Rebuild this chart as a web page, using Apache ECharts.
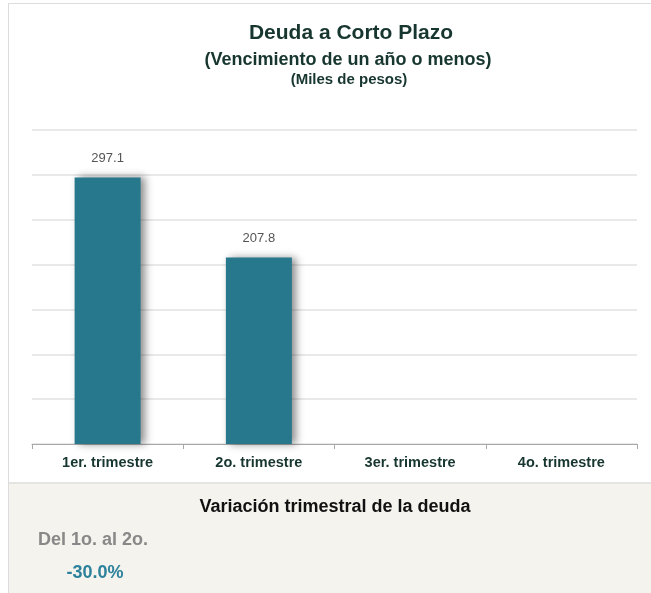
<!DOCTYPE html>
<html>
<head>
<meta charset="utf-8">
<script src="https://cdn.jsdelivr.net/npm/echarts@6/dist/echarts.min.js"></script>
<style>
  html, body { margin: 0; padding: 0; background: #fff; }
  #chart { width: 651px; height: 593px; }
</style>
</head>
<body>
<div id="chart"></div>
<script>
// datos
var trimestres = ['1er. trimestre', '2o. trimestre', '3er. trimestre', '4o. trimestre'];
var deuda = [297.1, 207.8, null, null];
var variacionPeriodo = 'Del 1o. al 2o.';
var variacionValor = '-30.0%';

var fuente = '"Liberation Sans", Arial, sans-serif';
var verdeOscuro = '#17362f';

var chart = echarts.init(document.getElementById('chart'));

var option = {
    backgroundColor: '#fff',
    animation: false,
    title: [
        {
            text: 'Deuda a Corto Plazo',
            left: 346, top: 18, textAlign: 'center',
            textStyle: { fontFamily: fuente, fontSize: 21, fontWeight: 'bold', color: verdeOscuro }
        },
        {
            text: '(Vencimiento de un año o menos)',
            left: 343, top: 46, textAlign: 'center',
            textStyle: { fontFamily: fuente, fontSize: 18, fontWeight: 'bold', color: verdeOscuro }
        },
        {
            text: '(Miles de pesos)',
            left: 344, top: 67, textAlign: 'center',
            textStyle: { fontFamily: fuente, fontSize: 15, fontWeight: 'bold', color: verdeOscuro }
        }
    ],
    grid: { left: 32, right: 14, top: 130, bottom: 149, containLabel: false },
    xAxis: {
        type: 'category',
        data: trimestres,
        axisLine: { lineStyle: { color: '#a8a8a8', width: 1 } },
        axisTick: { show: true, length: 5, lineStyle: { color: '#a8a8a8' } },
        axisLabel: {
            margin: 11,
            fontFamily: fuente, fontSize: 14.5, fontWeight: 'bold', color: verdeOscuro
        }
    },
    yAxis: {
        type: 'value',
        min: 0, max: 350, interval: 50,
        axisLabel: { show: false },
        axisLine: { show: false },
        axisTick: { show: false },
        splitLine: { lineStyle: { color: '#e2e2e2', width: 1.5 } }
    },
    series: [{
        type: 'bar',
        data: deuda,
        barWidth: 66,
        itemStyle: {
            color: '#28788d',
            shadowColor: 'rgba(0,0,0,0.45)',
            shadowBlur: 8,
            shadowOffsetX: 4,
            shadowOffsetY: 0
        },
        label: {
            show: true,
            position: 'top',
            distance: 13,
            fontFamily: fuente, fontSize: 13, color: '#555',
            formatter: function (p) { return p.value == null ? '' : p.value.toFixed(1); }
        }
    }],
    graphic: [
        // marco
        { type: 'line', shape: { x1: 8.5, y1: 3.5, x2: 651, y2: 3.5 }, style: { stroke: '#dcdcdc', lineWidth: 1 }, z: 10 },
        { type: 'line', shape: { x1: 8.5, y1: 3, x2: 8.5, y2: 593 }, style: { stroke: '#dcdcdc', lineWidth: 1 }, z: 10 },
        // panel inferior
        { type: 'rect', shape: { x: 9, y: 483, width: 642, height: 110 }, style: { fill: '#f4f3ed' }, z: 5 },
        { type: 'line', shape: { x1: 9, y1: 483, x2: 651, y2: 483 }, style: { stroke: '#e4e4e0', lineWidth: 2 }, z: 6 },
        {
            type: 'text', x: 335, y: 507, z: 7,
            style: {
                text: 'Variación trimestral de la deuda',
                align: 'center', verticalAlign: 'middle',
                font: 'bold 18px ' + fuente, fill: '#111'
            }
        },
        {
            type: 'text', x: 38, y: 540, z: 7,
            style: {
                text: variacionPeriodo,
                align: 'left', verticalAlign: 'middle',
                font: 'bold 18px ' + fuente, fill: '#888'
            }
        },
        {
            type: 'text', x: 95, y: 573, z: 7,
            style: {
                text: variacionValor,
                align: 'center', verticalAlign: 'middle',
                font: 'bold 18px ' + fuente, fill: '#2c819c'
            }
        }
    ]
};

chart.setOption(option);
</script>
</body>
</html>
